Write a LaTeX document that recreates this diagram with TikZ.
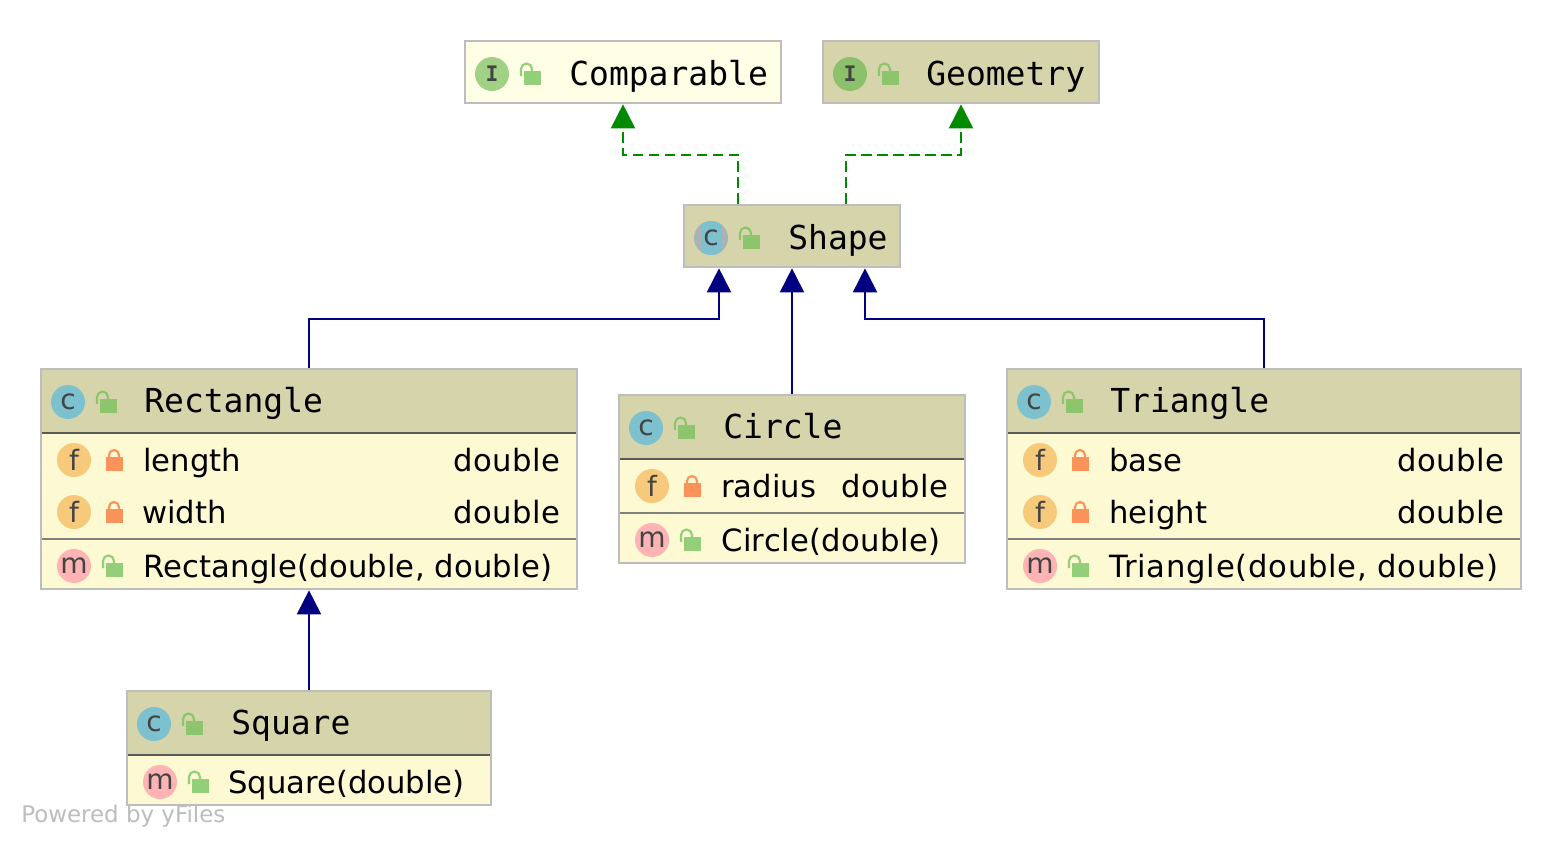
\documentclass[tikz,border=0pt]{standalone}
\usepackage{fontspec}
\setsansfont{DejaVu Sans}
\setmonofont{DejaVu Sans Mono}
\usetikzlibrary{arrows.meta}
\definecolor{hdr}{HTML}{D6D4AA}
\definecolor{body}{HTML}{FCF9D3}
\definecolor{ifacepale}{HTML}{FFFFE6}
\definecolor{edge}{HTML}{BDBDBD}
\definecolor{sepa}{HTML}{5A5A58}
\definecolor{sepb}{HTML}{808080}
\definecolor{ccol}{HTML}{7DC1CF}
\definecolor{fcol}{HTML}{F7C97B}
\definecolor{mcol}{HTML}{FFB3B5}
\definecolor{icol}{HTML}{A0D184}
\definecolor{icold}{HTML}{8CC06A}
\definecolor{acol}{HTML}{A9B3B5}
\definecolor{lockg}{HTML}{8CC56C}
\definecolor{lockl}{HTML}{93CF78}
\definecolor{locko}{HTML}{F9935A}
\definecolor{ink}{HTML}{444444}
\definecolor{realize}{HTML}{008A00}
\definecolor{extend}{HTML}{000080}
\newcommand{\spaced}[2]{{\addfontfeatures{LetterSpace=#1}#2}}
\tikzset{
  x=0.75pt,y=-0.75pt,
  umlbox/.style={draw=edge,line width=1.5pt,outer sep=0pt,inner sep=0pt},
  badge/.style={circle,minimum size=25.5pt,inner sep=0pt,text=ink,font=\sffamily\fontsize{21pt}{21pt}\selectfont},
  ibadge/.style={badge,font=\ttfamily\bfseries\fontsize{16pt}{16pt}\selectfont},
  titletext/.style={anchor=base west,inner sep=0pt,font=\ttfamily\fontsize{24.75pt}{26pt}\selectfont,text=black},
  membertext/.style={anchor=base west,inner sep=0pt,font=\sffamily\fontsize{23pt}{25pt}\selectfont,text=black},
  typetext/.style={anchor=base east,inner sep=0pt,font=\sffamily\fontsize{23pt}{25pt}\selectfont,text=black},
  realizes/.style={draw=realize,line width=1.5pt,dash pattern=on 8pt off 4pt,shorten >=1pt,shorten <=1pt,
    -{Triangle[width=18pt,length=18pt,color=realize,sep=0pt]}},
  extends/.style={draw=extend,line width=1.5pt,shorten >=1pt,shorten <=1pt,
    -{Triangle[width=18pt,length=18pt,color=extend]}},
  openlock/.pic={
    \fill[pic actions] (0,-3) rectangle (16,10);
    \draw[pic actions,fill=none,line width=1.6pt] (-3,2) -- (-3,-5) arc (180:360:5.5) -- (8,-3);
  },
  closedlock/.pic={
    \fill[pic actions] (0,-3) rectangle (16,10);
    \draw[pic actions,fill=none,line width=1.6pt] (3,-3) -- (3,-5) arc (180:360:5) -- (13,-3);
  }
}
\newcommand{\sepline}[4]{\draw[#4,line width=1.5pt] (#1,#3) -- (#2,#3);}
\begin{document}
\begin{tikzpicture}
\useasboundingbox (0,0) rectangle (1562,846);
\fill[white] (0,0) rectangle (1562,846);

% boxes
\node[umlbox,fill=ifacepale,minimum width=237pt,minimum height=46.5pt] (comparable) at (623,72) {};
\node[umlbox,fill=hdr,minimum width=207pt,minimum height=46.5pt] (geometry) at (961,72) {};
\node[umlbox,fill=hdr,minimum width=162pt,minimum height=46.5pt] (shape) at (792,236) {};
\node[umlbox,fill=body,minimum width=402pt,minimum height=165pt] (rectangle) at (309,479) {};
\node[umlbox,fill=body,minimum width=259.5pt,minimum height=126pt] (circlebox) at (792,479) {};
\node[umlbox,fill=body,minimum width=385.5pt,minimum height=165pt] (triangle) at (1264,479) {};
\node[umlbox,fill=body,minimum width=273pt,minimum height=85.5pt] (square) at (309,748) {};

% class headers
\fill[hdr] (42,370) rectangle (576,433);
\fill[hdr] (620,396) rectangle (964,459);
\fill[hdr] (1008,370) rectangle (1520,433);
\fill[hdr] (128,692) rectangle (490,755);
\sepline{42}{576}{433}{sepa}
\sepline{42}{576}{539}{sepb}
\sepline{620}{964}{459}{sepa}
\sepline{620}{964}{513}{sepb}
\sepline{1008}{1520}{433}{sepa}
\sepline{1008}{1520}{539}{sepb}
\sepline{128}{490}{755}{sepa}

% Comparable
\node[ibadge,fill=icol] (ic1) at (492,74) {I};
\pic[fill=lockl,draw=lockl] at (524,74) {openlock};
\node[titletext] (t1) at (569,85) {Comparable};
% Geometry
\node[ibadge,fill=icold] (ic2) at (850,74) {I};
\pic[fill=lockg,draw=lockg] at (882,74) {openlock};
\node[titletext] (t2) at (926,85) {Geometry};
% Shape
\begin{scope}
  \clip (711,238) circle (17);
  \fill[acol] (694,221) rectangle (728,255);
  \fill[ccol] (701,221) rectangle (722,255);
\end{scope}
\node[badge] (ic3) at (711,238) {c};
\pic[fill=lockg,draw=lockg] at (743,238) {openlock};
\node[titletext] (t3) at (788,249) {Shape};

% Rectangle
\node[badge,fill=ccol] (ic4) at (68,402) {c};
\pic[fill=lockg,draw=lockg] at (100,402) {openlock};
\node[titletext] (t4) at (144,412) {Rectangle};
\node[badge,fill=fcol] (f1) at (74,460) {f};
\pic[fill=locko,draw=locko] at (106,460) {closedlock};
\node[membertext] (n1) at (143,471) {length};
\node[typetext] (d1) at (561,471) {\spaced{2}{double}};
\node[badge,fill=fcol] (f2) at (74,512) {f};
\pic[fill=locko,draw=locko] at (106,512) {closedlock};
\node[membertext] (n2) at (142,523) {width};
\node[typetext] (d2) at (561,523) {\spaced{2}{double}};
\node[badge,fill=mcol] (m1) at (74,566) {m};
\pic[fill=lockl,draw=lockl] at (106,566) {openlock};
\node[membertext] (n3) at (143,577) {\spaced{0.5}{Rectangle(double, double)}};

% Circle
\node[badge,fill=ccol] (ic5) at (646,428) {c};
\pic[fill=lockg,draw=lockg] at (678,428) {openlock};
\node[titletext] (t5) at (723,438) {Circle};
\node[badge,fill=fcol] (f3) at (652,486) {f};
\pic[fill=locko,draw=locko] at (684,486) {closedlock};
\node[membertext] (n4) at (721,497) {radius};
\node[typetext] (d3) at (949,497) {\spaced{2}{double}};
\node[badge,fill=mcol] (m2) at (652,540) {m};
\pic[fill=lockl,draw=lockl] at (684,540) {openlock};
\node[membertext] (n5) at (721,551) {\spaced{1.2}{Circle(double)}};

% Triangle
\node[badge,fill=ccol] (ic6) at (1034,402) {c};
\pic[fill=lockg,draw=lockg] at (1066,402) {openlock};
\node[titletext] (t6) at (1110,412) {Triangle};
\node[badge,fill=fcol] (f4) at (1040,460) {f};
\pic[fill=locko,draw=locko] at (1072,460) {closedlock};
\node[membertext] (n6) at (1109,471) {base};
\node[typetext] (d4) at (1505,471) {\spaced{2}{double}};
\node[badge,fill=fcol] (f5) at (1040,512) {f};
\pic[fill=locko,draw=locko] at (1072,512) {closedlock};
\node[membertext] (n7) at (1109,523) {height};
\node[typetext] (d5) at (1505,523) {\spaced{2}{double}};
\node[badge,fill=mcol] (m3) at (1040,566) {m};
\pic[fill=lockl,draw=lockl] at (1072,566) {openlock};
\node[membertext] (n8) at (1109,577) {\spaced{2.4}{Triangle(double, double)}};

% Square
\node[badge,fill=ccol] (ic7) at (154,724) {c};
\pic[fill=lockg,draw=lockg] at (186,724) {openlock};
\node[titletext] (t7) at (231,734) {Square};
\node[badge,fill=mcol] (m4) at (160,782) {m};
\pic[fill=lockl,draw=lockl] at (192,782) {openlock};
\node[membertext] (n9) at (228,793) {Square(double)};

% connector ports
\coordinate (shapeL) at (719,267);
\coordinate (shapeR) at (865,267);
\coordinate (shapeTL) at (738,205);
\coordinate (shapeTR) at (846,205);
\coordinate (rowI) at (0,154.5);
\coordinate (rowE) at (0,318.5);

% connectors
\draw[realizes] (shapeTL) -- (shapeTL |- rowI) -- (comparable.south |- rowI) -- (comparable.south);
\draw[realizes] (shapeTR) -- (shapeTR |- rowI) -- (geometry.south |- rowI) -- (geometry.south);
\draw[extends] (rectangle.north) -- (rectangle.north |- rowE) -- (shapeL |- rowE) -- (shapeL);
\draw[extends] (circlebox.north) -- (shape.south);
\draw[extends] (triangle.north) -- (triangle.north |- rowE) -- (shapeR |- rowE) -- (shapeR);
\draw[extends] (square.north) -- (rectangle.south);

\node[anchor=base west,inner sep=0pt,text=edge,font=\sffamily\fontsize{17.2pt}{20pt}\selectfont] (yf) at (21,822) {Powered by yFiles};
\end{tikzpicture}
\end{document}
